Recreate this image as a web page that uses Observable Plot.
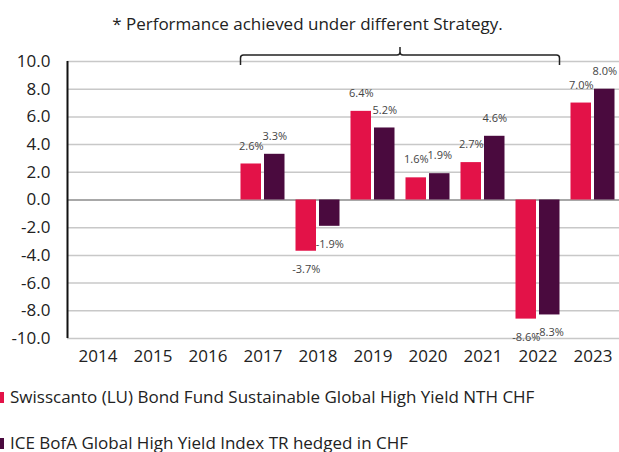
<!DOCTYPE html>
<html><head><meta charset="utf-8">
<script src="https://cdn.jsdelivr.net/npm/d3@7"></script>
<script src="https://cdn.jsdelivr.net/npm/@observablehq/plot@0.6"></script>
<style>
body{margin:0;background:#fff;font-family:"Open Sans",sans-serif;}
#wrap{position:relative;width:619px;height:452px;overflow:hidden;background:#fff;}
#chart{position:absolute;top:0;left:0;}
#title{position:absolute;top:13px;left:0;width:615px;text-align:center;font-size:17px;line-height:22px;color:#222;}
.leg{position:absolute;left:0;font-size:17px;line-height:22px;color:#222;white-space:nowrap;display:flex;align-items:center;}
.sw{display:inline-block;width:4px;height:11px;margin-right:6px;}
</style></head><body>
<div id="wrap">
<div id="chart"></div>
<div id="title"></div>
<div id="legend"></div>
</div>
<script>
const years = ["2014","2015","2016","2017","2018","2019","2020","2021","2022","2023"];
const fundValues = [null,null,null,2.6,-3.7,6.4,1.6,2.7,-8.6,7.0];
const indexValues = [null,null,null,3.3,-1.9,5.2,1.9,4.6,-8.3,8.0];
const seriesNames = ["Swisscanto (LU) Bond Fund Sustainable Global High Yield NTH CHF","ICE BofA Global High Yield Index TR hedged in CHF"];
const seriesColors = ["#E31248","#4A0A3E"];
const yTicks = [-10,-8,-6,-4,-2,0,2,4,6,8,10];
const titleText = "* Performance achieved under different Strategy.";
const bracketYears = ["2017","2022"];

const fund = years.map((y,i)=>({year:y,value:fundValues[i]})).filter(d=>d.value!=null);
const index = years.map((y,i)=>({year:y,value:indexValues[i]})).filter(d=>d.value!=null);
const fmtPct = d => d.value.toFixed(1) + "%";

function decorations(idx, scales, values, dims) {
  const g = d3.create("svg:g");
  const x = scales.x, y = scales.y;
  const bw = x.bandwidth ? x.bandwidth() : 55.5;
  // left axis line
  g.append("line").attr("x1", dims.marginLeft + 0.5).attr("x2", dims.marginLeft + 0.5)
    .attr("y1", y(10)).attr("y2", y(-10)).attr("stroke", "#111").attr("stroke-width", 2);
  // bracket
  const xL = x(bracketYears[0]) + 5.5, xR = x(bracketYears[1]) + bw - 5.5;
  const xm = (xL + xR) / 2, yh = y(10) - 6, yb = y(10) + 4, yt = y(10) - 14, r = 3;
  const p = `M${xL},${yb}L${xL},${yh+r}Q${xL},${yh} ${xL+r},${yh}L${xm-r},${yh}Q${xm},${yh} ${xm},${yh-r}L${xm},${yt}`+
            `M${xm},${yh-r}Q${xm},${yh} ${xm+r},${yh}L${xR-r},${yh}Q${xR},${yh} ${xR},${yh+r}L${xR},${yb}`;
  g.append("path").attr("d", p).attr("fill", "none").attr("stroke", "#222").attr("stroke-width", 1.5);
  return g.node();
}

const labelStyle = {fontSize: 11, fill: "#444", fontFamily: "Open Sans"};
const chart = Plot.plot({
  width: 619, height: 373,
  marginTop: 61, marginLeft: 67, marginRight: 0, marginBottom: 35,
  style: {fontFamily: "Open Sans", fontSize: "17px", color: "#222", background: "transparent"},
  x: {domain: years, range: [67, 622], padding: 0, tickSize: 0, tickPadding: 11, label: null},
  y: {domain: [-10, 10], ticks: yTicks, tickFormat: d => d.toFixed(1), tickSize: 0, tickPadding: 17, label: null},
  marks: [
    Plot.ruleY(yTicks, {stroke: "#c8c8c8", strokeWidth: 1.5}),
    Plot.ruleY([0], {stroke: "#999", strokeWidth: 1.5}),
    Plot.barY(fund, {x: "year", y: "value", fill: seriesColors[0], insetLeft: 5.5, insetRight: 29}),
    Plot.barY(index, {x: "year", y: "value", fill: seriesColors[1], insetLeft: 29, insetRight: 5.5}),
    Plot.text(fund, {filter: d => d.value >= 0, x: "year", y: "value", text: fmtPct, dx: -11.75, dy: -18, ...labelStyle}),
    Plot.text(fund, {filter: d => d.value < 0, x: "year", y: "value", text: fmtPct, dx: -11.75, dy: 18, ...labelStyle}),
    Plot.text(index, {filter: d => d.value >= 0, x: "year", y: "value", text: fmtPct, dx: 11.75, dy: -18, ...labelStyle}),
    Plot.text(index, {filter: d => d.value < 0, x: "year", y: "value", text: fmtPct, dx: 11.75, dy: 18, ...labelStyle}),
    decorations
  ]
});
document.getElementById("chart").appendChild(chart);
document.getElementById("title").textContent = titleText;

const legend = document.getElementById("legend");
const tops = [386, 432];
seriesNames.forEach((name, i) => {
  const row = document.createElement("div");
  row.className = "leg";
  row.style.top = tops[i] + "px";
  const sw = document.createElement("span");
  sw.className = "sw";
  sw.style.background = seriesColors[i];
  row.appendChild(sw);
  row.appendChild(document.createTextNode(name));
  legend.appendChild(row);
});
</script>
</body></html>
